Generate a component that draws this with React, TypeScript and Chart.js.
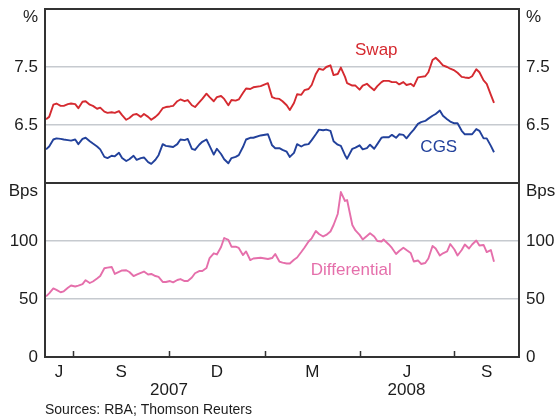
import { useEffect, useRef } from 'react';
import { Chart, registerables } from 'chart.js';

Chart.register(...registerables);

// Twice-weekly observations
const obsDates = [
  '2007-06-05', '2007-06-08', '2007-06-12', '2007-06-15', '2007-06-19', '2007-06-22', '2007-06-26', '2007-06-29',
  '2007-07-03', '2007-07-06', '2007-07-10', '2007-07-13', '2007-07-17', '2007-07-20', '2007-07-24', '2007-07-27', '2007-07-31',
  '2007-08-03', '2007-08-07', '2007-08-10', '2007-08-14', '2007-08-17', '2007-08-21', '2007-08-24', '2007-08-28', '2007-08-31',
  '2007-09-04', '2007-09-07', '2007-09-11', '2007-09-14', '2007-09-18', '2007-09-21', '2007-09-25', '2007-09-28',
  '2007-10-02', '2007-10-05', '2007-10-09', '2007-10-12', '2007-10-16', '2007-10-19', '2007-10-23', '2007-10-26', '2007-10-30',
  '2007-11-02', '2007-11-06', '2007-11-09', '2007-11-13', '2007-11-16', '2007-11-20', '2007-11-23', '2007-11-27', '2007-11-30',
  '2007-12-04', '2007-12-07', '2007-12-11', '2007-12-14', '2007-12-18', '2007-12-21', '2007-12-28',
  '2008-01-04', '2008-01-08', '2008-01-11', '2008-01-15', '2008-01-18', '2008-01-22', '2008-01-25', '2008-01-29',
  '2008-02-01', '2008-02-05', '2008-02-08', '2008-02-12', '2008-02-15', '2008-02-19', '2008-02-22', '2008-02-26', '2008-02-29',
  '2008-03-04', '2008-03-07', '2008-03-11', '2008-03-14', '2008-03-18', '2008-03-20', '2008-03-25', '2008-03-28',
  '2008-04-01', '2008-04-04', '2008-04-08', '2008-04-11', '2008-04-15', '2008-04-18', '2008-04-22', '2008-04-24', '2008-04-29',
  '2008-05-02', '2008-05-06', '2008-05-09', '2008-05-13', '2008-05-16', '2008-05-20', '2008-05-23', '2008-05-27', '2008-05-30',
  '2008-06-03', '2008-06-06', '2008-06-10', '2008-06-13', '2008-06-17', '2008-06-20', '2008-06-24', '2008-06-27',
  '2008-07-01', '2008-07-04', '2008-07-08', '2008-07-11', '2008-07-15', '2008-07-18', '2008-07-22', '2008-07-25', '2008-07-29',
  '2008-08-01', '2008-08-05', '2008-08-08',
];

// Swap yield, per cent
const swapYield = [
  6.60, 6.64, 6.85, 6.87, 6.83, 6.83, 6.86, 6.87,
  6.86, 6.79, 6.90, 6.91, 6.85, 6.83, 6.78, 6.80, 6.73,
  6.71, 6.72, 6.71, 6.74, 6.67, 6.59, 6.62, 6.68, 6.69,
  6.64, 6.69, 6.64, 6.59, 6.64, 6.69, 6.79, 6.81,
  6.82, 6.83, 6.91, 6.94, 6.91, 6.93, 6.84, 6.81, 6.89,
  6.95, 7.04, 6.98, 6.91, 6.98, 7.00, 6.95, 6.84, 6.93,
  6.92, 6.94, 7.05, 7.13, 7.12, 7.15, 7.17,
  7.22, 6.98, 6.96, 6.95, 6.91, 6.84, 6.76, 6.88,
  7.03, 7.02, 7.10, 7.12, 7.19, 7.38, 7.47, 7.45, 7.50,
  7.53, 7.36, 7.38, 7.49, 7.33, 7.22, 7.18, 7.18,
  7.11, 7.18, 7.21, 7.16, 7.10, 7.17, 7.24, 7.26, 7.26,
  7.24, 7.24, 7.20, 7.24, 7.19, 7.21, 7.17, 7.32, 7.33,
  7.34, 7.41, 7.62, 7.66, 7.59, 7.53, 7.50, 7.47,
  7.44, 7.40, 7.33, 7.32, 7.31, 7.34, 7.46, 7.41, 7.27,
  7.21, 7.02, 6.88,
];

// CGS yield, per cent
const cgsYield = [
  6.08, 6.13, 6.25, 6.27, 6.26, 6.25, 6.24, 6.23,
  6.25, 6.17, 6.26, 6.28, 6.22, 6.18, 6.13, 6.08, 5.95,
  5.93, 5.97, 5.96, 6.02, 5.93, 5.88, 5.91, 5.97, 5.90,
  5.93, 5.94, 5.86, 5.83, 5.90, 5.98, 6.17, 6.14,
  6.13, 6.12, 6.17, 6.25, 6.24, 6.26, 6.09, 6.07, 6.16,
  6.21, 6.25, 6.14, 5.99, 6.09, 6.00, 5.91, 5.84, 5.93,
  5.95, 5.98, 6.12, 6.25, 6.28, 6.28, 6.32,
  6.34, 6.15, 6.10, 6.10, 6.07, 6.04, 5.95, 6.02,
  6.17, 6.13, 6.16, 6.17, 6.24, 6.34, 6.42, 6.41, 6.42,
  6.40, 6.22, 6.16, 6.14, 5.98, 5.92, 6.09, 6.11,
  6.15, 6.08, 6.10, 6.16, 6.09, 6.17, 6.28, 6.29, 6.29,
  6.33, 6.28, 6.34, 6.33, 6.27, 6.36, 6.42, 6.52, 6.55,
  6.57, 6.61, 6.66, 6.69, 6.75, 6.66, 6.60, 6.56,
  6.53, 6.53, 6.40, 6.34, 6.34, 6.34, 6.43, 6.40, 6.27,
  6.27, 6.14, 6.03,
];

// Swap less CGS, basis points
const differentialBps = [
  52.2, 54.9, 59.1, 57.9, 55.8, 56.6, 59.7, 61.6,
  60.8, 61.6, 62.9, 66.2, 63.8, 65.1, 67.7, 69.8, 76.5,
  77.0, 77.6, 71.6, 73.3, 74.6, 74.8, 73.3, 69.8, 71.1,
  72.6, 73.7, 71.1, 71.6, 69.8, 69.0, 64.7, 64.7,
  65.5, 64.4, 66.4, 67.2, 65.5, 65.5, 68.5, 72.2, 74.1,
  74.1, 76.7, 85.3, 89.4, 88.4, 94.8, 102.6, 100.9, 95.1,
  95.1, 94.0, 87.9, 91.0, 83.6, 84.9, 85.6,
  84.5, 85.3, 88.8, 82.3, 81.3, 80.6, 80.6, 83.9,
  85.8, 90.5, 94.2, 99.6, 102.3, 108.6, 106.0, 103.9, 105.2,
  108.2, 113.8, 123.3, 142.2, 134.5, 135.3, 113.8, 109.1,
  105.3, 101.3, 104.3, 106.6, 103.9, 100.0, 99.6, 101.3, 97.0,
  94.0, 88.8, 91.4, 94.2, 92.2, 89.7, 82.3, 83.2, 80.2,
  81.0, 84.9, 95.7, 93.5, 87.5, 89.4, 91.0, 97.4,
  92.7, 87.5, 92.2, 97.0, 93.5, 97.0, 100.4, 96.1, 96.6,
  90.5, 92.2, 82.2,
];

// Time axis
const axisStart = '2007-06-04';
const axisEnd = '2008-09-01';
const quarterStarts = ['2007-07-01', '2007-10-01', '2008-01-01', '2008-04-01', '2008-07-01'];
const quarterLetters = ['J', 'S', 'D', 'M', 'J', 'S'];
const yearTexts = ['2007', '2008'];
const yearAnchorDates = ['2007-10-01', '2008-05-16'];

// Value axes
const pctRange = [5.5, 8.5];
const pctLabelled = [6.5, 7.5];
const bpsRange = [0, 150];
const bpsLabelled = [0, 50, 100];

const SWAP_COLOR = '#d52a30';
const CGS_COLOR = '#22419b';
const DIFF_COLOR = '#e56fab';
const TEXT_COLOR = '#1c1c1c';
const FRAME_COLOR = '#333333';
const GRID_COLOR = '#c6cacf';
const FONT_FAMILY = '"Liberation Sans", Arial, Helvetica, sans-serif';

const dayNum = (s: string) => {
  const [y, m, d] = s.split('-').map(Number);
  return (Date.UTC(y, m - 1, d) - Date.UTC(2007, 6, 1)) / 86400000;
};

const seriesTags = [
  { text: 'Swap', color: SWAP_COLOR, date: '2008-04-17', value: 7.79, axis: 'yTop' },
  { text: 'CGS', color: CGS_COLOR, date: '2008-06-16', value: 6.12, axis: 'yTop' },
  { text: 'Differential', color: DIFF_COLOR, date: '2008-03-24', value: 75, axis: 'yBot' },
];

const decorations = {
  id: 'decorations',
  afterDatasetsDraw(chart: any) {
    const { ctx, chartArea: a, scales } = chart;
    const x = scales.x;
    const top = scales.yTop;
    const bot = scales.yBot;
    ctx.save();

    // frame and panel divider
    ctx.strokeStyle = FRAME_COLOR;
    ctx.lineWidth = 2;
    ctx.strokeRect(a.left, a.top, a.right - a.left, a.bottom - a.top);
    ctx.beginPath();
    ctx.moveTo(a.left, top.bottom);
    ctx.lineTo(a.right, top.bottom);
    ctx.stroke();

    // quarter boundary ticks
    ctx.lineWidth = 1.5;
    ctx.beginPath();
    for (const q of quarterStarts) {
      const px = Math.round(x.getPixelForValue(dayNum(q))) + 0.5;
      ctx.moveTo(px, a.bottom);
      ctx.lineTo(px, a.bottom - 6);
    }
    ctx.stroke();

    // unit labels
    ctx.font = `17px ${FONT_FAMILY}`;
    ctx.fillStyle = TEXT_COLOR;
    ctx.textBaseline = 'middle';
    ctx.textAlign = 'right';
    ctx.fillText('%', a.left - 7, top.top + 8);
    ctx.fillText('Bps', a.left - 7, bot.top + 8);
    ctx.textAlign = 'left';
    ctx.fillText('%', a.right + 7, top.top + 8);
    ctx.fillText('Bps', a.right + 7, bot.top + 8);

    // series names
    ctx.textAlign = 'center';
    for (const t of seriesTags) {
      ctx.fillStyle = t.color;
      ctx.fillText(t.text, x.getPixelForValue(dayNum(t.date)), scales[t.axis].getPixelForValue(t.value));
    }

    // years under the quarter letters
    ctx.fillStyle = TEXT_COLOR;
    yearTexts.forEach((txt, i) => {
      ctx.fillText(txt, x.getPixelForValue(dayNum(yearAnchorDates[i])), a.bottom + 33);
    });

    // source note
    ctx.font = `14px ${FONT_FAMILY}`;
    ctx.textAlign = 'left';
    ctx.fillText('Sources: RBA; Thomson Reuters', a.left, a.bottom + 53);
    ctx.restore();
  },
};

const tickFont = { family: FONT_FAMILY, size: 17 };

function valueAxis(position: 'left' | 'right', range: number[], step: number, labelled: number[], decimals: number) {
  return {
    type: 'linear' as const,
    position,
    stack: position,
    stackWeight: 1,
    min: range[0],
    max: range[1],
    border: { display: false },
    grid: {
      display: position === 'left',
      drawTicks: false,
      lineWidth: 1.5,
      color: (c: any) => (c.tick && labelled.includes(c.tick.value) && c.tick.value !== range[0] ? GRID_COLOR : 'rgba(0,0,0,0)'),
    },
    ticks: {
      stepSize: step,
      padding: 7,
      color: TEXT_COLOR,
      font: tickFont,
      callback: (v: number) => (labelled.includes(v) ? v.toFixed(decimals) : ''),
    },
    afterFit: (s: any) => {
      s.width = position === 'left' ? 45 : 40;
      // keep the plot frame where the layout padding puts it
      s.paddingTop = 0;
      s.paddingBottom = 0;
    },
  };
}

export default function App() {
  const ref = useRef<HTMLCanvasElement | null>(null);

  useEffect(() => {
    document.body.style.margin = '0';
    const xs = obsDates.map(dayNum);
    const bounds = [dayNum(axisStart), ...quarterStarts.map(dayNum), dayNum(axisEnd)];
    const mids = bounds.slice(1).map((b, i) => (b + bounds[i]) / 2);

    const chart = new Chart(ref.current as HTMLCanvasElement, {
      type: 'line',
      data: {
        datasets: [
          {
            label: 'Swap',
            data: xs.map((x, i) => ({ x, y: swapYield[i] })),
            borderColor: SWAP_COLOR,
            yAxisID: 'yTop',
          },
          {
            label: 'CGS',
            data: xs.map((x, i) => ({ x, y: cgsYield[i] })),
            borderColor: CGS_COLOR,
            yAxisID: 'yTop',
          },
          {
            label: 'Differential',
            data: xs.map((x, i) => ({ x, y: differentialBps[i] })),
            borderColor: DIFF_COLOR,
            yAxisID: 'yBot',
          },
        ],
      },
      options: {
        animation: false,
        responsive: false,
        events: [],
        layout: { autoPadding: false, padding: { top: 9, bottom: 25, left: 0, right: 0 } },
        elements: {
          point: { radius: 0 },
          line: { borderWidth: 1.9, tension: 0, borderJoinStyle: 'round' },
        },
        plugins: { legend: { display: false }, tooltip: { enabled: false } },
        scales: {
          x: {
            type: 'linear',
            min: dayNum(axisStart),
            max: dayNum(axisEnd),
            border: { display: false },
            grid: { display: false, drawTicks: false },
            afterBuildTicks: (s: any) => {
              s.ticks = mids.map((v) => ({ value: v }));
            },
            ticks: {
              autoSkip: false,
              maxRotation: 0,
              padding: 5,
              color: TEXT_COLOR,
              font: tickFont,
              callback: (_v: any, i: number) => quarterLetters[i] ?? '',
            },
            afterFit: (s: any) => {
              s.height = 35;
              s.paddingLeft = 0;
              s.paddingRight = 0;
            },
          },
          // stacking order: on the left the later axis sits on top, on the right the earlier one does
          yBot: valueAxis('left', bpsRange, 50, bpsLabelled, 0),
          yTop: valueAxis('left', pctRange, 1, pctLabelled, 1),
          yTopR: valueAxis('right', pctRange, 1, pctLabelled, 1),
          yBotR: valueAxis('right', bpsRange, 50, bpsLabelled, 0),
        },
      },
      plugins: [decorations],
    } as any);

    return () => chart.destroy();
  }, []);

  return (
    <div style={{ position: 'absolute', left: 0, top: 0, width: 559, height: 417, background: '#fff' }}>
      <canvas ref={ref} width={559} height={417} style={{ width: 559, height: 417 }} />
    </div>
  );
}
